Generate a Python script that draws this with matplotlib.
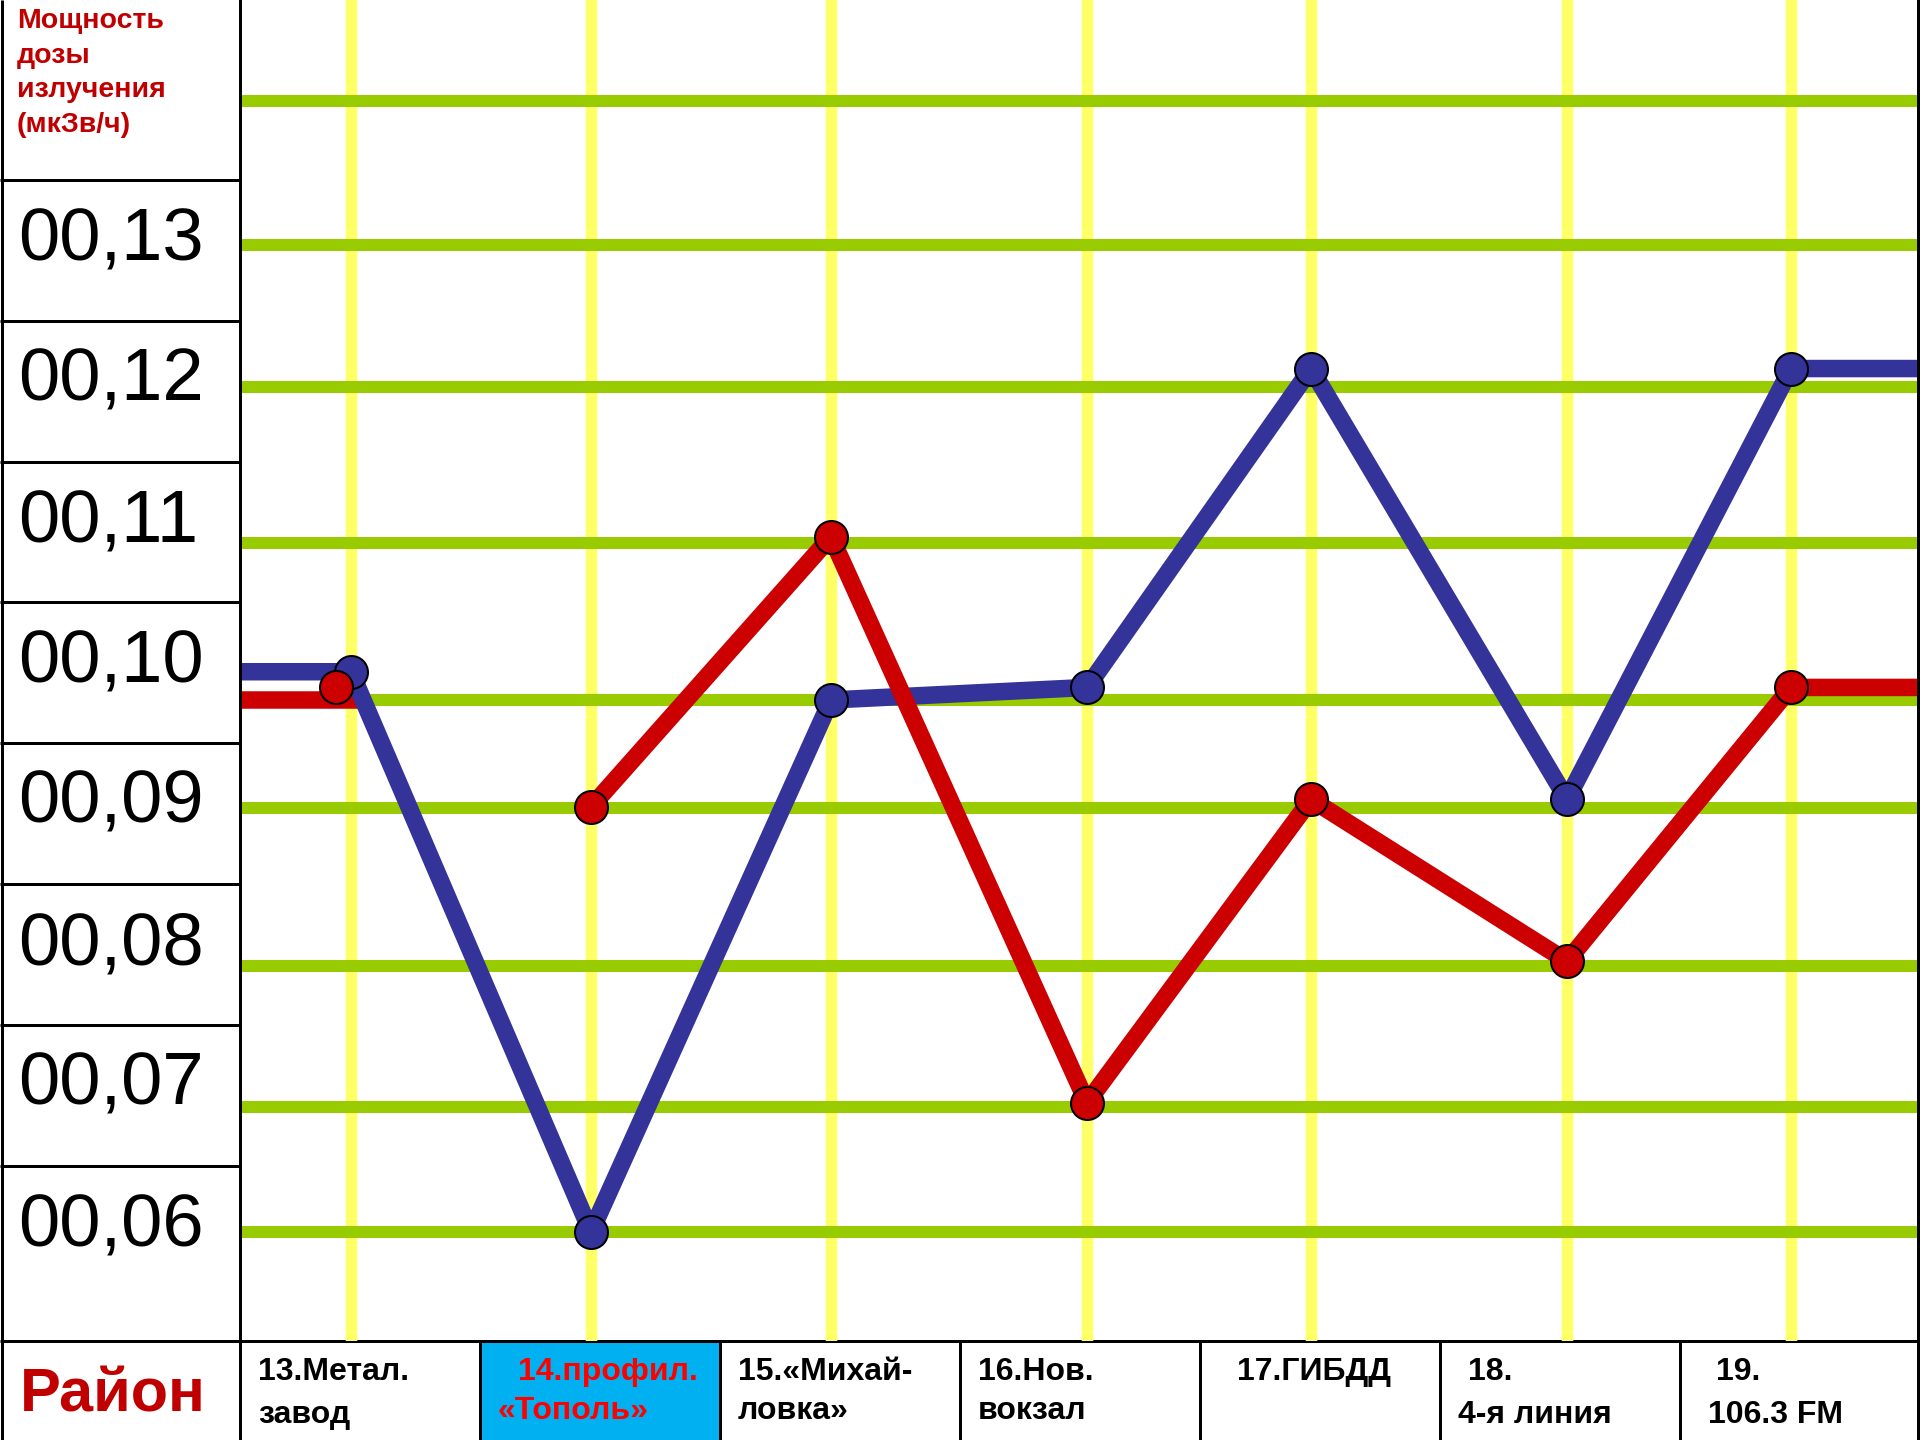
import numpy as np
import matplotlib
matplotlib.use("Agg")
import matplotlib.pyplot as plt
from matplotlib.patches import Rectangle

# ---------------- data ----------------
districts = ["13.Метал.\nзавод", "14.профил.\n«Тополь»", "15.«Михай-\nловка»",
             "16.Нов.\nвокзал", "17.ГИБДД", "18.\n4-я линия", "19.\n106.3 FM"]
blue_vals = [0.1018, 0.0600, 0.1000, 0.1008, 0.1213, 0.0908, 0.1213]
red_vals = [0.1008, 0.0901, 0.1104, 0.0703, 0.0908, 0.0803, 0.1008]
red_lead_in = 0.1000
grid_levels = [0.06, 0.07, 0.08, 0.09, 0.10, 0.11, 0.12, 0.13, 0.14]
tick_labels = ["00,13", "00,12", "00,11", "00,10", "00,09", "00,08", "00,07", "00,06"]
title_lines = ["Мощность", "дозы", "излучения", "(мкЗв/ч)"]
row_title = "Район"
highlight = 1  # highlighted district

# ---------------- layout (pixels of a 1920x1440 slide) ----------------
W, H = 1920, 1440
col_px = [351, 591, 831, 1087, 1311, 1567, 1791]           # category guide lines
lvl_px = [1232, 1107, 966, 808, 700, 543, 387, 245, 101]    # level guide lines
PLOT_L, PLOT_R, PLOT_B = 240, 1918, 1341
cell_tops = [180, 321, 462, 602, 743, 884, 1025, 1166]
red_first_shift = -0.0625

BLUE, RED = "#333399", "#CC0000"
GREEN, YELLOW, CYAN = "#99CC00", "#FFFF66", "#00B0F0"
DARKRED = "#C00000"
FONT = ["Liberation Sans", "DejaVu Sans"]
PX = 72 / 100.0  # points per pixel

# piecewise-linear scale for categories
kx = np.array([-2, -1] + list(range(7)) + [7, 8], dtype=float)
kp = np.array([col_px[0] - 480, col_px[0] - 240] + col_px + [col_px[-1] + 224, col_px[-1] + 448], dtype=float)
def fx(x):
    return np.interp(x, kx, kp)
def ix(p):
    return np.interp(p, kp, kx)

# piecewise-linear scale for dose levels (height above figure bottom)
kv = np.array([0.04, 0.05] + grid_levels + [0.15, 0.16])
ky_pix = np.array([1482, 1357] + lvl_px + [-43, -187], dtype=float)
kh = H - ky_pix
def fy(v):
    return np.interp(v, kv, kh)
def iy(h):
    return np.interp(h, kh, kv)

fig = plt.figure(figsize=(19.2, 14.4), dpi=100)
fig.patch.set_facecolor("white")

# ---------- background table ----------
bg = fig.add_axes([0, 0, 1, 1], zorder=0)
bg.set_xlim(0, W)
bg.set_ylim(H, 0)
bg.axis("off")
lw_t = 3 * PX
bg.add_patch(Rectangle((PLOT_L + 240 * highlight, PLOT_B), 240, H - PLOT_B,
                       facecolor=CYAN, edgecolor="none", zorder=1))
bg.vlines([2, PLOT_L], 0, H, colors="black", lw=lw_t, zorder=3)
bg.hlines(cell_tops, 0, PLOT_L, colors="black", lw=lw_t, zorder=3)
bg.hlines([PLOT_B], 0, W, colors="black", lw=lw_t, zorder=3)
bg.vlines([PLOT_L + 240 * k for k in range(1, 7)], PLOT_B, H, colors="black", lw=lw_t, zorder=3)
bg.vlines([PLOT_R], 0, H, colors="black", lw=lw_t, zorder=3)

for txt, yb in zip(title_lines, [28, 63, 97, 132]):
    bg.text(17, yb, txt, fontsize=20.5, fontweight="bold", color=DARKRED,
            family=FONT, va="baseline", ha="left")
for txt, top in zip(tick_labels, cell_tops):
    bg.text(18, top + 80, txt, fontsize=53.5, color="black",
            family=FONT, va="baseline", ha="left")
bg.text(20, 1412, row_title, fontsize=44, fontweight="bold", color=DARKRED,
        family=FONT, va="baseline", ha="left")

line_x = [(258, 258), (518, 498), (738, 738), (978, 978), (1237, 1237), (1468, 1458), (1716, 1708)]
line2_y = [1423, 1419, 1419, 1419, 1423, 1423, 1423]
for i, name in enumerate(districts):
    parts = name.split("\n")
    col = "#FF0000" if i == highlight else "black"
    ys = [1380, line2_y[i]]
    for j, part in enumerate(parts):
        bg.text(line_x[i][j], ys[j], part, fontsize=23, fontweight="bold", color=col,
                family=FONT, va="baseline", ha="left")

# ---------- plot area ----------
ax = fig.add_axes([PLOT_L / W, (H - PLOT_B) / H, (PLOT_R - PLOT_L) / W, PLOT_B / H], zorder=1)
ax.set_facecolor("none")
ax.set_xscale("function", functions=(fx, ix))
ax.set_yscale("function", functions=(fy, iy))
ax.set_xlim(ix(PLOT_L), ix(PLOT_R))
ax.set_ylim(iy(H - PLOT_B), iy(H))
ax.set_xticks(range(len(districts)))
ax.set_yticks(grid_levels)
ax.tick_params(length=0, labelbottom=False, labelleft=False)
ax.minorticks_off()
ax.set_axisbelow(True)
ax.xaxis.grid(True, color=YELLOW, lw=11.5 * PX)
ax.yaxis.grid(True, color=GREEN, lw=12 * PX)
for s in ["top", "bottom", "left", "right"]:
    ax.spines[s].set_visible(False)

xmin, xmax = ax.get_xlim()
idx = np.arange(len(districts))
LW = 17.5 * PX
MS = 33 * PX

# red lead-in stub
ax.plot([xmin, 0], [red_lead_in, red_lead_in], color=RED, lw=LW,
        solid_capstyle="projecting", zorder=2)
# blue series with lead-in/out
bx = np.concatenate([[xmin], idx, [xmax]])
by = np.concatenate([[blue_vals[0]], blue_vals, [blue_vals[-1]]])
ax.plot(bx, by, color=BLUE, lw=LW, solid_joinstyle="round", zorder=3)
# red series (from second point) with lead-out
rx = np.concatenate([idx[1:], [xmax]])
ry = np.concatenate([red_vals[1:], [red_vals[-1]]])
ax.plot(rx, ry, color=RED, lw=LW, solid_joinstyle="round", zorder=4)
# markers
ax.plot(idx, blue_vals, ls="none", marker="o", ms=MS, mfc=BLUE, mec="black",
        mew=2 * PX, zorder=5)
rmx = idx.astype(float).copy()
rmx[0] += red_first_shift
ax.plot(rmx, red_vals, ls="none", marker="o", ms=MS, mfc=RED, mec="black",
        mew=2 * PX, zorder=6)

# borders on top of the plot area
ax.plot([xmin, xmin], [iy(H - PLOT_B), iy(H)], color="black", lw=lw_t, zorder=7, clip_on=False)
ax.plot([xmax, xmax], [iy(H - PLOT_B), iy(H)], color="black", lw=lw_t, zorder=7, clip_on=False)

fig.savefig("out.png", dpi=100, facecolor="white")
